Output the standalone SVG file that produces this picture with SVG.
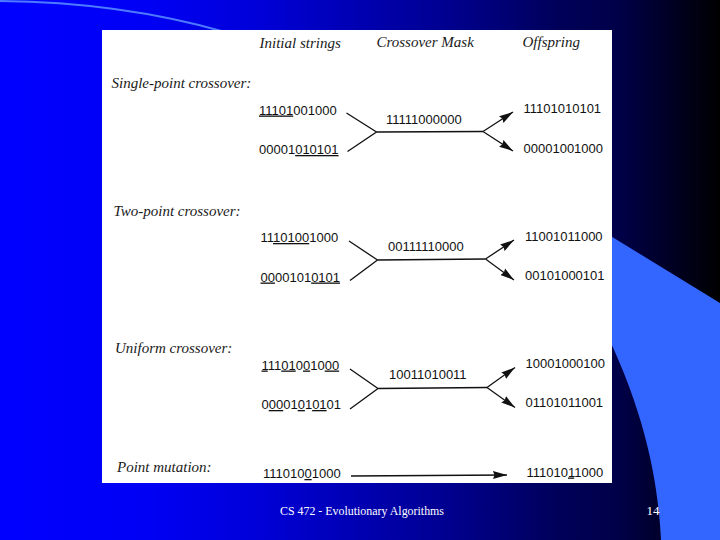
<svg xmlns="http://www.w3.org/2000/svg" width="720" height="540" viewBox="0 0 720 540">
<defs>
<linearGradient id="bg" x1="0" y1="0" x2="720" y2="0" gradientUnits="userSpaceOnUse">
<stop offset="0" stop-color="#0000FF"/>
<stop offset="0.2" stop-color="#0000F5"/>
<stop offset="0.36" stop-color="#0000D8"/>
<stop offset="0.62" stop-color="#000090"/>
<stop offset="0.78" stop-color="#000058"/>
<stop offset="0.86" stop-color="#000048"/>
<stop offset="0.94" stop-color="#000020"/>
<stop offset="1" stop-color="#000000"/>
</linearGradient>
<marker id="ah" markerUnits="userSpaceOnUse" markerWidth="15" markerHeight="9" refX="14" refY="4.5" orient="auto">
<path d="M0,0.5 L14,4.5 L0,8.5 L1.5,4.5 Z" fill="#111"/>
</marker>
<style>
.hd{font-family:"Liberation Serif","Times New Roman",serif;font-style:italic;font-size:15px;fill:#1a1a1a}
.bn{font-family:"Liberation Sans",Arial,sans-serif;font-size:13px;fill:#111}
.u{text-decoration:underline}
.ln{stroke:#111;stroke-width:1.3;fill:none}
.ar{stroke:#111;stroke-width:1.3;fill:none;marker-end:url(#ah)}
.ft{font-family:"Liberation Serif","Times New Roman",serif;font-size:13px;fill:#fff}
</style>
</defs>
<g id="background">
<rect x="0" y="0" width="720" height="540" fill="url(#bg)"/>
<path d="M560,205 L720,303 L720,540 L661,540 C658,480 645,410 600,320 Z" fill="#3366FF"/>
<path d="M0,1 Q120,2 225,32" stroke="#4D7BFF" stroke-width="2" fill="none"/>
<rect x="102" y="30" width="510" height="453" fill="#ffffff"/>
</g>
<g id="headers">
<text class="hd" x="259.5" y="48">Initial strings</text>
<text class="hd" x="376.5" y="47">Crossover Mask</text>
<text class="hd" x="522.5" y="47">Offspring</text>
</g>
<g id="single-point">
<text class="hd" x="111.5" y="88">Single-point crossover:</text>
<text class="bn" x="259" y="114.5"><tspan class="u">11101</tspan>001000</text>
<text class="bn" x="259" y="154">00001<tspan class="u">010101</tspan></text>
<text class="bn" x="386" y="124">11111000000</text>
<text class="bn" x="523.5" y="113">11101010101</text>
<text class="bn" x="523.5" y="152.5">00001001000</text>
</g>
<g id="two-point">
<text class="hd" x="113.5" y="216">Two-point crossover:</text>
<text class="bn" x="260.5" y="242">11<tspan class="u">10100</tspan>1000</text>
<text class="bn" x="260.5" y="281.5"><tspan class="u">00</tspan>00101<tspan class="u">0101</tspan></text>
<text class="bn" x="388" y="251">00111110000</text>
<text class="bn" x="525" y="240.5">11001011000</text>
<text class="bn" x="525" y="280">00101000101</text>
</g>
<g id="uniform">
<text class="hd" x="115" y="353">Uniform crossover:</text>
<text class="bn" x="261.5" y="369.5"><tspan class="u">1</tspan>11<tspan class="u">01</tspan>0<tspan class="u">0</tspan>10<tspan class="u">00</tspan></text>
<text class="bn" x="261.5" y="409">0<tspan class="u">00</tspan>01<tspan class="u">0</tspan>1<tspan class="u">01</tspan>01</text>
<text class="bn" x="389" y="378.5">10011010011</text>
<text class="bn" x="525.5" y="367.5">10001000100</text>
<text class="bn" x="525.5" y="407">01101011001</text>
</g>
<g id="point-mutation">
<text class="hd" x="117" y="472">Point mutation:</text>
<text class="bn" x="263" y="478">111010<tspan class="u">0</tspan>1000</text>
<text class="bn" x="526.5" y="476.5">111010<tspan class="u">1</tspan>1000</text>
</g>
<g id="connectors">
<path class="ln" d="M346.5,113 L376.5,132 L347.5,151.5 M376.5,132 L483,131.5"/>
<path class="ar" d="M483,131.5 L513,112"/>
<path class="ar" d="M483,131.5 L513,151"/>
<path class="ln" d="M349,241 L377.5,260 L350,280.5 M377.5,260 L485.5,259"/>
<path class="ar" d="M485.5,259 L514,240"/>
<path class="ar" d="M485.5,259 L514,280"/>
<path class="ln" d="M350,369 L378,388.5 L350,409 M378,388.5 L487,387.5"/>
<path class="ar" d="M487,387.5 L515,367.5"/>
<path class="ar" d="M487,387.5 L515,407.5"/>
<path class="ar" d="M351,476 L507,475"/>
</g>
<g id="footer">
<text class="ft" x="280" y="515" textLength="164" lengthAdjust="spacingAndGlyphs">CS 472 - Evolutionary Algorithms</text>
<text class="ft" x="646.5" y="515">14</text>
</g>
</svg>
